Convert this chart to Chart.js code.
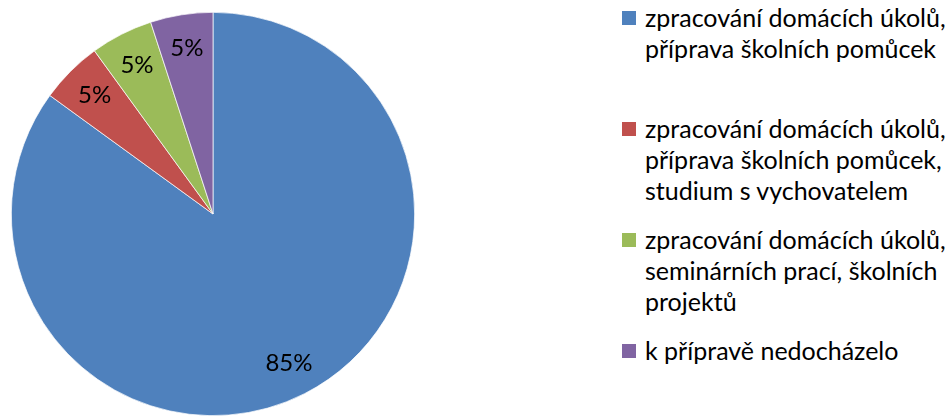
<!DOCTYPE html>
<html>
<head>
<meta charset="utf-8">
<script src="https://cdn.jsdelivr.net/npm/chart.js@4"></script>
<style>
  html, body { margin: 0; padding: 0; background: #fff; }
  body { width: 945px; height: 416px; position: relative; overflow: hidden; font-family: Lato, sans-serif; }
  #pie { position: absolute; left: 11px; top: 12px; width: 404px; height: 404px; }
  #legend { position: absolute; left: 622px; top: 2px; width: 323px; }
  .item { display: flex; align-items: flex-start; height: 111px; }
  .box { width: 14px; height: 14px; margin-top: 9px; margin-right: 9px; flex: none; }
  .txt { font-size: 25px; line-height: 31px; color: #000; white-space: nowrap; }
</style>
</head>
<body>
<div id="pie"><canvas id="c"></canvas></div>
<div id="legend"></div>
<script>
const labels = [
  'zpracování domácích úkolů,\npříprava školních pomůcek',
  'zpracování domácích úkolů,\npříprava školních pomůcek,\nstudium s vychovatelem',
  'zpracování domácích úkolů,\nseminárních prací, školních\nprojektů',
  'k přípravě nedocházelo'
];
const values = [85, 5, 5, 5];
const colors = ['#4F81BD', '#C0504D', '#9BBB59', '#8064A2'];

// percentage labels placed inside slices
const sliceLabels = {
  id: 'sliceLabels',
  afterDatasetsDraw(chart) {
    const ctx = chart.ctx;
    const total = values.reduce((a, b) => a + b, 0);
    ctx.save();
    ctx.font = '24px Lato, sans-serif';
    ctx.fillStyle = '#000';
    ctx.textAlign = 'center';
    ctx.textBaseline = 'middle';
    chart.getDatasetMeta(0).data.forEach((arc, i) => {
      const p = arc.getProps(['x', 'y', 'startAngle', 'endAngle', 'outerRadius']);
      const mid = (p.startAngle + p.endAngle) / 2;
      const r = p.outerRadius * 0.83;
      const pct = Math.round(values[i] / total * 100) + '%';
      ctx.fillText(pct, p.x + Math.cos(mid) * r, p.y + Math.sin(mid) * r);
    });
    ctx.restore();
  }
};

new Chart(document.getElementById('c'), {
  type: 'pie',
  data: {
    labels: labels,
    datasets: [{
      data: values,
      backgroundColor: colors,
      borderColor: '#ffffff',
      borderWidth: 0.7
    }]
  },
  options: {
    responsive: true,
    maintainAspectRatio: false,
    animation: false,
    layout: { padding: 0 },
    plugins: {
      legend: { display: false },
      tooltip: { enabled: false }
    }
  },
  plugins: [sliceLabels]
});

// legend built from the same arrays
const legend = document.getElementById('legend');
labels.forEach((lab, i) => {
  const item = document.createElement('div');
  item.className = 'item';
  const box = document.createElement('div');
  box.className = 'box';
  box.style.background = colors[i];
  const txt = document.createElement('div');
  txt.className = 'txt';
  txt.innerHTML = lab.split('\n').join('<br>');
  item.appendChild(box);
  item.appendChild(txt);
  legend.appendChild(item);
});
</script>
</body>
</html>
